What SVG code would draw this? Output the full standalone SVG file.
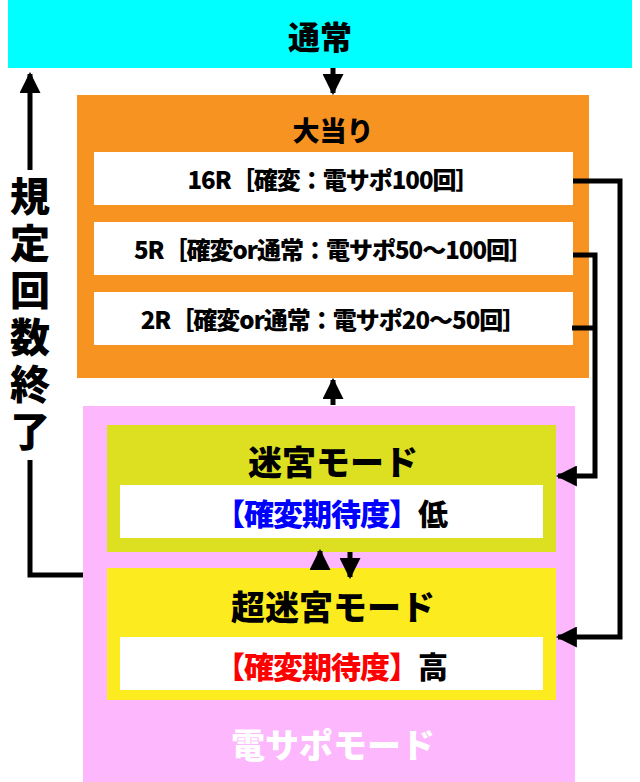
<svg xmlns="http://www.w3.org/2000/svg" width="640" height="782" viewBox="0 0 640 782">
<defs>
<style>
text{font-family:"Noto Sans CJK JP","Noto Sans",sans-serif;font-weight:900;text-anchor:middle}
.row{font-size:24px;letter-spacing:-1px}
.v{font-size:40px}
.ln{fill:none;stroke:#000;stroke-width:5}
</style>
<marker id="ah" viewBox="0 0 10 10" refX="9" refY="5" markerWidth="4.2" markerHeight="4.2" orient="auto"><path d="M0,0 L10,5 L0,10 Z" fill="#000"/></marker>
</defs>
<rect width="640" height="782" fill="#fff"/>
<g id="normal"><rect x="8" y="0" width="624" height="68" fill="#00ffff"/><text x="320" y="49" font-size="32">通常</text></g>
<g id="jackpot"><rect x="77" y="95" width="512" height="283" fill="#f79321"/><text x="333" y="141" font-size="27">大当り</text>
<rect x="94" y="152" width="479" height="53" fill="#fff"/><text class="row" x="333" y="189">16R［確変：電サポ100回］</text>
<rect x="94" y="222" width="479" height="53" fill="#fff"/><text class="row" x="333" y="259">5R［確変or通常：電サポ50～100回］</text>
<rect x="94" y="292" width="479" height="53" fill="#fff"/><text class="row" x="333" y="329">2R［確変or通常：電サポ20～50回］</text></g>
<g id="densapo"><rect x="83" y="406" width="492" height="376" fill="#fdb7fd"/><text x="333" y="758" font-size="34" fill="#fff">電サポモード</text></g>
<g id="meikyu"><rect x="107" y="425" width="449" height="127" fill="#dde021"/><text x="333" y="475" font-size="34">迷宮モード</text>
<rect x="120" y="485" width="423" height="53" fill="#fff"/><text x="331" y="525" font-size="30" fill="#0000ff" letter-spacing="-1">【確変期待度】<tspan fill="#000">低</tspan></text></g>
<g id="choumeikyu"><rect x="107" y="568" width="449" height="132" fill="#fcec1f"/><text x="333" y="620" font-size="34">超迷宮モード</text>
<rect x="120" y="637" width="423" height="53" fill="#fff"/><text x="331" y="678" font-size="30" fill="#ff0000" letter-spacing="-1">【確変期待度】<tspan fill="#000">高</tspan></text></g>
<g id="connectors">
<line class="ln" x1="333" y1="68" x2="333" y2="93" marker-end="url(#ah)"/>
<line class="ln" x1="333" y1="405" x2="333" y2="380" marker-end="url(#ah)"/>
<line class="ln" x1="320" y1="568" x2="320" y2="551" marker-end="url(#ah)"/>
<line class="ln" x1="350" y1="552" x2="350" y2="577" marker-end="url(#ah)"/>
<polyline class="ln" points="573,181 620,181 620,637 558,637" marker-end="url(#ah)"/>
<polyline class="ln" points="573,255 595,255 595,476 558,476" marker-end="url(#ah)"/>
<line class="ln" x1="572" y1="328" x2="597" y2="328"/>
<polyline class="ln" points="83,575 30,575 30,74" marker-end="url(#ah)"/>
<rect x="6" y="170" width="48" height="290" fill="#fff"/>
</g>
<g id="label-left">
<text class="v" x="30" y="211">規</text><text class="v" x="30" y="258">定</text><text class="v" x="30" y="305">回</text><text class="v" x="30" y="352">数</text><text class="v" x="30" y="399">終</text><text class="v" x="30" y="446">了</text>
</g>
</svg>
